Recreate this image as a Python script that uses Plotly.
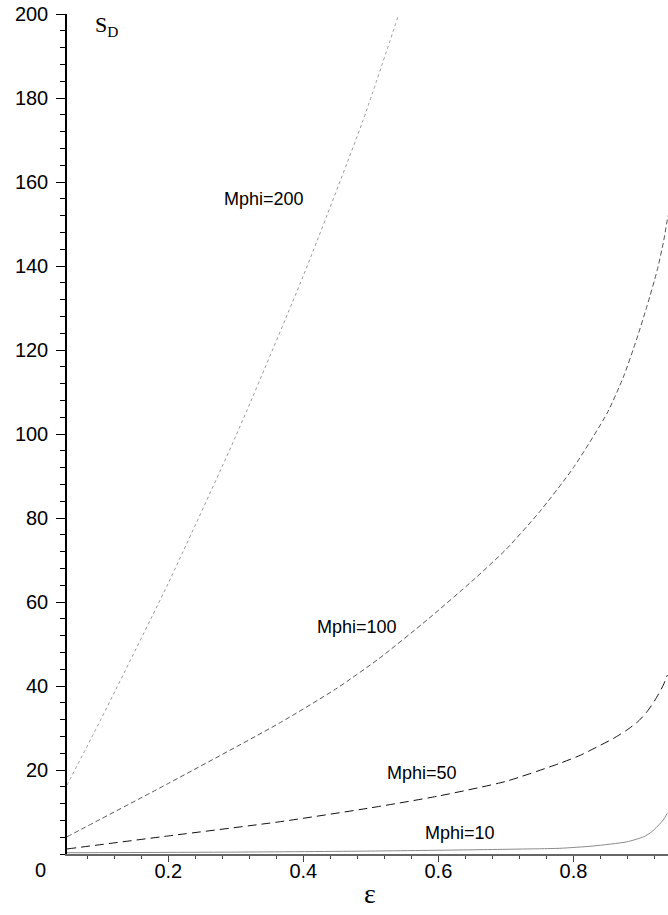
import plotly.graph_objects as go

# eccentricity samples and S_D values for each Mphi curve
eps_200 = [0.05, 0.10, 0.20, 0.30, 0.40, 0.488, 0.540]
sd_200 = [16.4, 32.0, 64.5, 99.5, 137.7, 174.5, 199.3]

eps_100 = [0.05, 0.20, 0.366, 0.45, 0.511, 0.583, 0.65, 0.70, 0.75, 0.80, 0.85,
           0.8745, 0.894, 0.909, 0.924, 0.933, 0.940]
sd_100 = [4.1, 16.8, 31.3, 39.5, 46.4, 55.7, 65.0, 72.5, 81.5, 92.0, 105.0,
          113.8, 122.8, 130.5, 139.0, 145.5, 152.0]

eps_50 = [0.05, 0.20, 0.366, 0.50, 0.60, 0.70, 0.78, 0.81, 0.835, 0.859, 0.879,
          0.896, 0.909, 0.921, 0.933, 0.939]
sd_50 = [1.2, 4.3, 7.7, 11.0, 13.8, 17.3, 21.6, 23.5, 25.5, 27.5, 29.5,
         31.6, 33.9, 36.7, 40.2, 42.6]

eps_10 = [0.05, 0.30, 0.50, 0.65, 0.75, 0.78, 0.829, 0.879, 0.904, 0.916, 0.933, 0.939]
sd_10 = [0.3, 0.45, 0.7, 1.0, 1.25, 1.36, 1.9, 2.9, 4.1, 5.3, 8.1, 9.7]

x_ticks = [0.2, 0.4, 0.6, 0.8]
y_ticks = [20, 40, 60, 80, 100, 120, 140, 160, 180, 200]

curves = [
    ("Mphi=200", eps_200, sd_200, "#9a9a9a", "3px,3px"),
    ("Mphi=100", eps_100, sd_100, "#555555", "5px,3px"),
    ("Mphi=50", eps_50, sd_50, "#111111", "9px,5px"),
    ("Mphi=10", eps_10, sd_10, "#8a8a8a", "solid"),
]

# label anchor points (data coordinates)
labels = [
    ("Mphi=200", 0.342, 156),
    ("Mphi=100", 0.480, 54),
    ("Mphi=50", 0.575, 19.3),
    ("Mphi=10", 0.632, 5.0),
]

sans = "Liberation Sans, Arial"
serif = "Liberation Serif, Times New Roman"

fig = go.Figure()
for name, xs, ys, color, dash in curves:
    fig.add_trace(go.Scatter(
        x=xs, y=ys, mode="lines", name=name,
        line=dict(color=color, width=1, dash=dash, shape="spline", smoothing=0.6),
        showlegend=False, hoverinfo="skip",
    ))

for text, lx, ly in labels:
    fig.add_annotation(x=lx, y=ly, text=text, showarrow=False,
                       font=dict(family=sans, size=18, color="black"))

# origin label sits below-left of the corner
fig.add_annotation(x=0, y=0, xref="paper", yref="paper", xshift=-27, yshift=-16,
                   xanchor="center", yanchor="middle", text="0", showarrow=False,
                   font=dict(family=sans, size=20, color="black"))
# y-axis name inside the plot area
fig.add_annotation(x=0.043, y=1.0, xref="paper", yref="paper", yshift=4,
                   text="S<sub>D</sub>", showarrow=False, xanchor="left", yanchor="top",
                   font=dict(family=serif, size=22, color="black"))
# x-axis name
fig.add_annotation(x=0.504, y=0, xref="paper", yref="paper", yshift=-39,
                   xanchor="center", yanchor="middle", text="ε", showarrow=False,
                   font=dict(family=serif, size=28, color="black"))

fig.update_layout(
    width=668, height=915,
    margin=dict(l=67, r=0, t=14, b=61),
    paper_bgcolor="white", plot_bgcolor="white",
    xaxis=dict(
        range=[0.05, 0.94], tickvals=x_ticks, ticktext=[str(v) for v in x_ticks],
        ticks="outside", ticklen=6, tickcolor="#444", showgrid=False, zeroline=False,
        showline=True, linecolor="#666", linewidth=2,
        minor=dict(dtick=0.04, tick0=0, ticks="outside", ticklen=3, tickcolor="#444"),
        tickfont=dict(family=sans, size=20, color="black"),
        ticklabelstandoff=-8,
    ),
    yaxis=dict(
        range=[0, 200], tickvals=y_ticks, ticktext=[str(v) for v in y_ticks],
        ticks="outside", ticklen=9, tickcolor="black", showgrid=False, zeroline=False,
        showline=True, linecolor="black", linewidth=1.5,
        minor=dict(dtick=4, tick0=0, ticks="outside", ticklen=5, tickcolor="black"),
        tickfont=dict(family=sans, size=20, color="black"),
        ticklabelstandoff=4,
    ),
)

fig.write_html("out.html")
